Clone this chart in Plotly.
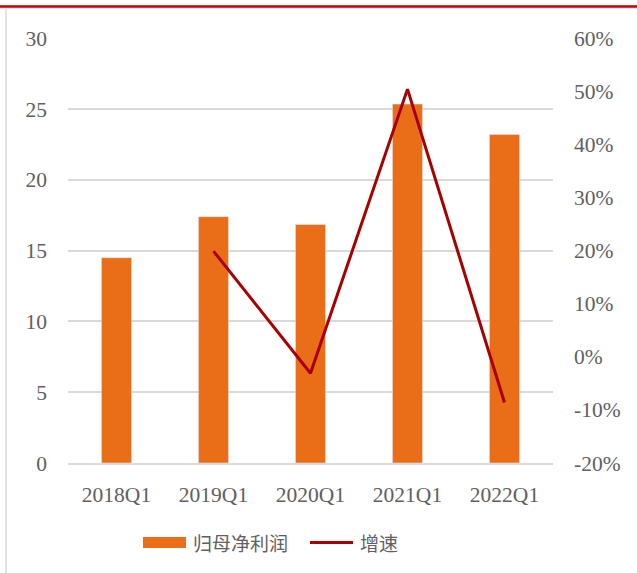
import plotly.graph_objects as go

categories = ["2018Q1", "2019Q1", "2020Q1", "2021Q1", "2022Q1"]
profit = [14.5, 17.4, 16.85, 25.35, 23.2]
growth = [None, 19.9, -3.1, 50.4, -8.6]

W, H = 637, 573
L, R, T, B = 68, 84, 38, 110
pw, ph = W - L - R, H - T - B

def px(x):
    return (x - L) / pw

def py(y):
    return (H - B - y) / ph

BAR = "#EA6D18"
LINE = "#A80000"
TXT = "#606060"
GRID = "#D9D9D9"

fig = go.Figure()
fig.add_trace(go.Bar(x=categories, y=profit, marker_color=BAR, width=0.31,
                     name="归母净利润", showlegend=False))
fig.add_trace(go.Scatter(x=categories, y=growth, yaxis="y2", mode="lines",
                         line=dict(color=LINE, width=3), name="增速",
                         showlegend=False, connectgaps=False))

font_serif = "Liberation Serif, Times New Roman, serif"
FS = 21.5

fig.update_layout(
    width=W, height=H,
    margin=dict(l=L, r=R, t=T, b=B),
    paper_bgcolor="white", plot_bgcolor="white",
    bargap=0.69,
    xaxis=dict(showgrid=False, showline=True, linecolor=GRID, linewidth=1.5,
               ticks="", tickfont=dict(family=font_serif, size=FS, color=TXT),
               ticklabelstandoff=11),
    yaxis=dict(range=[0, 30.02], tickvals=[0, 5, 10, 15, 20, 25, 30],
               showgrid=True, gridcolor=GRID, gridwidth=1.5, zeroline=False,
               showline=False, ticks="",
               tickfont=dict(family=font_serif, size=FS, color=TXT),
               ticklabelstandoff=20),
    yaxis2=dict(range=[-20, 60.03], tickvals=[-20, -10, 0, 10, 20, 30, 40, 50, 60],
                ticktext=[f"{v}%" for v in [-20, -10, 0, 10, 20, 30, 40, 50, 60]],
                overlaying="y", side="right", showgrid=False, zeroline=False,
                showline=False, ticks="",
                tickfont=dict(family=font_serif, size=FS, color=TXT),
                ticklabelstandoff=20),
)

shapes = []
# frame lines
shapes.append(dict(type="line", xref="paper", yref="paper", x0=px(0), x1=px(W),
                   y0=py(8.5), y1=py(8.5), line=dict(color="#E6E6E6", width=1)))
shapes.append(dict(type="line", xref="paper", yref="paper", x0=px(0), x1=px(W),
                   y0=py(6.5), y1=py(6.5), line=dict(color="#C00000", width=2.5)))
shapes.append(dict(type="line", xref="paper", yref="paper", x0=px(6), x1=px(6),
                   y0=py(9), y1=py(H), line=dict(color="#D9D9D9", width=1.5)))
# legend swatches
shapes.append(dict(type="rect", xref="paper", yref="paper", x0=px(143), x1=px(186),
                   y0=py(548), y1=py(537), fillcolor=BAR, line=dict(width=0)))
shapes.append(dict(type="line", xref="paper", yref="paper", x0=px(310), x1=px(353),
                   y0=py(542.5), y1=py(542.5), line=dict(color=LINE, width=3)))
fig.update_layout(shapes=shapes)

cjk = "Noto Sans CJK SC"
fig.add_annotation(xref="paper", yref="paper", x=px(191), y=py(542.5), text="归母净利润",
                   showarrow=False, xanchor="left", yanchor="middle",
                   font=dict(family=cjk, size=19, color=TXT))
fig.add_annotation(xref="paper", yref="paper", x=px(358), y=py(542.5), text="增速",
                   showarrow=False, xanchor="left", yanchor="middle",
                   font=dict(family=cjk, size=19, color=TXT))

fig.write_html("out.html")
